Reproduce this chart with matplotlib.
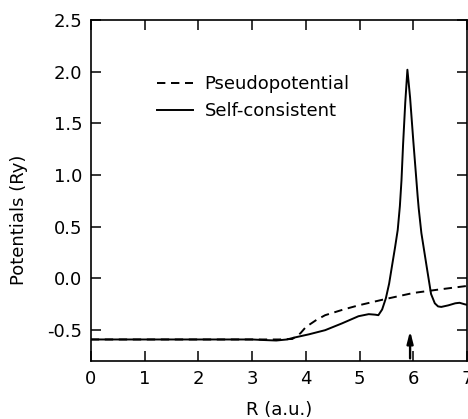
"""
Potenciales: pseudopotencial frente a potencial autoconsistente en funcion de R.
"""

import matplotlib
matplotlib.use("Agg")
import matplotlib.pyplot as plt

# pseudopotencial (linea discontinua)
r_pseudo = [0.0, 1.0, 2.0, 3.0, 3.5, 3.75, 3.9, 4.0, 4.2, 4.36, 4.7, 4.98,
            5.47, 6.0, 6.5, 7.0]
v_pseudo = [-0.59, -0.59, -0.59, -0.59, -0.59, -0.585, -0.53, -0.47, -0.40,
            -0.355, -0.30, -0.26, -0.20, -0.14, -0.105, -0.072]

# potencial autoconsistente (linea continua)
r_self = [0.0, 1.0, 2.0, 3.0, 3.2, 3.45, 3.65, 3.8, 4.06, 4.36, 4.67, 4.98,
          5.17, 5.29, 5.35, 5.42, 5.49, 5.55, 5.60, 5.66, 5.71, 5.75, 5.78,
          5.81, 5.85, 5.89, 5.94, 6.0, 6.05, 6.08, 6.10, 6.15, 6.25, 6.33,
          6.40, 6.46, 6.52, 6.65, 6.78, 6.86, 6.96, 7.0]
v_self = [-0.59, -0.59, -0.59, -0.59, -0.595, -0.60, -0.59, -0.57, -0.54,
          -0.50, -0.435, -0.365, -0.345, -0.35, -0.355, -0.30, -0.19, -0.05,
          0.11, 0.30, 0.47, 0.70, 0.95, 1.30, 1.70, 2.02, 1.75, 1.33, 1.0,
          0.80, 0.68, 0.44, 0.11, -0.15, -0.24, -0.27, -0.275, -0.26, -0.24,
          -0.235, -0.25, -0.255]

# flecha que marca la posicion R ~ 6
r_flecha = 5.94
v_flecha = -0.48

x_ticks = [0, 1, 2, 3, 4, 5, 6, 7]
y_ticks = [-0.5, 0.0, 0.5, 1.0, 1.5, 2.0, 2.5]


def main():
    plt.rcParams["font.family"] = ["DejaVu Sans"]
    fig = plt.figure(figsize=(4.68, 4.19), dpi=100)
    ax = fig.add_axes([0.194, 0.138, 0.804, 0.814])

    ax.plot(r_pseudo, v_pseudo, color="black", lw=1.4,
            linestyle=(0, (4.3, 2.9)), label="Pseudopotential")
    ax.plot(r_self, v_self, color="black", lw=1.4, label="Self-consistent")

    ax.annotate("", xy=(r_flecha, v_flecha), xytext=(r_flecha, -0.8),
                arrowprops=dict(arrowstyle="-|>,head_width=0.18,head_length=0.7",
                                color="black", lw=1.7))

    ax.set_xlim(0, 7)
    ax.set_ylim(-0.8, 2.5)
    ax.set_xticks(x_ticks)
    ax.set_yticks(y_ticks)
    ax.set_xticklabels([str(t) for t in x_ticks])
    ax.set_yticklabels(["-0.5", "0.0", "0.5", "1.0", "1.5", "2.0", "2.5"])
    ax.tick_params(direction="in", length=7, width=1.1, labelsize=13,
                   top=True, right=True, pad=6)
    for sp in ax.spines.values():
        sp.set_linewidth(1.2)

    ax.set_ylabel("Potentials (Ry)", fontsize=13)
    ax.set_xlabel("R (a.u.)", fontsize=13)
    ax.yaxis.set_label_coords(-0.167, 0.415)
    ax.xaxis.set_label_coords(0.5, -0.118)

    ax.legend(loc="upper left", bbox_to_anchor=(0.175, 0.839), frameon=False,
              fontsize=13, handlelength=2.0, handletextpad=0.66,
              labelspacing=0.5, borderpad=0, borderaxespad=0)

    fig.savefig("out.png", dpi=100)


if __name__ == "__main__":
    main()
